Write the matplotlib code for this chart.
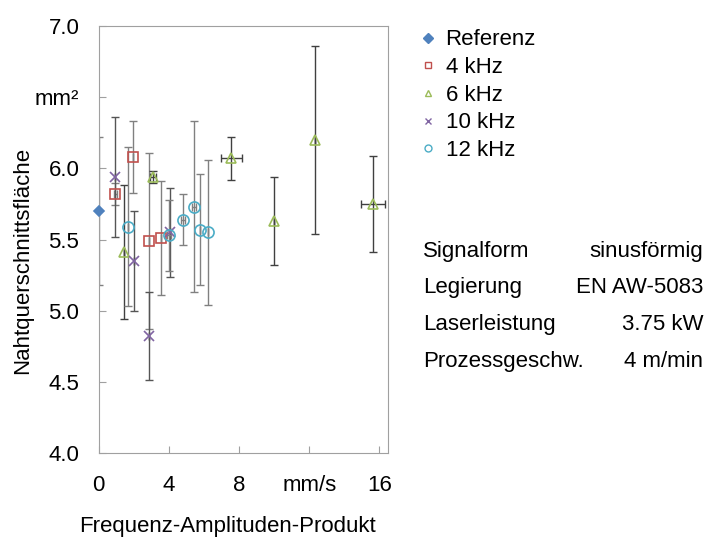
import matplotlib
matplotlib.use('Agg')
import matplotlib.pyplot as plt
from matplotlib.lines import Line2D

plt.rcParams['font.family'] = ['Liberation Sans', 'DejaVu Sans']

# Referenz
ref_x = [0.0]
ref_y = [5.70]
ref_yerr = [0.52]
ref_xerr = [0.0]

# 4 kHz
k4_x = [0.95, 1.97, 2.88, 3.54]
k4_y = [5.82, 6.08, 5.49, 5.51]
k4_yerr = [0.08, 0.25, 0.62, 0.40]
k4_xerr = [0.1, 0.0, 0.0, 0.0]

# 6 kHz
k6_x = [1.46, 3.10, 7.55, 10.0, 12.31, 15.64]
k6_y = [5.41, 5.94, 6.07, 5.63, 6.20, 5.75]
k6_yerr = [0.47, 0.04, 0.15, 0.31, 0.66, 0.34]
k6_xerr = [0.0, 0.15, 0.6, 0.0, 0.0, 0.66]

# 10 kHz
k10_x = [0.93, 2.00, 2.88, 4.05]
k10_y = [5.94, 5.35, 4.82, 5.55]
k10_yerr = [0.42, 0.35, 0.31, 0.31]
k10_xerr = [0.0, 0.0, 0.0, 0.0]

# 12 kHz
k12_x = [1.68, 4.00, 4.81, 5.43, 5.80, 6.23]
k12_y = [5.59, 5.53, 5.64, 5.73, 5.57, 5.55]
k12_yerr = [0.56, 0.25, 0.18, 0.60, 0.39, 0.51]
k12_xerr = [0.0, 0.1, 0.1, 0.1, 0.0, 0.0]

y_ticks = [4.0, 4.5, 5.0, 5.5, 6.0, 6.5, 7.0]
y_labels = ['4.0', '4.5', '5.0', '5.5', '6.0', 'mm²', '7.0']
x_ticks = [0, 4, 8, 12, 16]
x_labels = ['0', '4', '8', 'mm/s', '16']

info_names = ['Signalform', 'Legierung', 'Laserleistung', 'Prozessgeschw.']
info_values = ['sinusförmig', 'EN AW-5083', '3.75 kW', '4 m/min']

fig = plt.figure(figsize=(7.07, 5.37), dpi=100)
ax = fig.add_axes([0.1396, 0.1564, 0.4094, 0.795])

series = [
    (ref_x, ref_y, ref_xerr, ref_yerr, 'D', '#4F81BD', True, 'Referenz', '#808080', 5.5),
    (k4_x, k4_y, k4_xerr, k4_yerr, 's', '#C0504D', False, '4 kHz', '#808080', 7),
    (k6_x, k6_y, k6_xerr, k6_yerr, '^', '#9BBB59', False, '6 kHz', '#404040', 7),
    (k10_x, k10_y, k10_xerr, k10_yerr, 'x', '#8064A2', False, '10 kHz', '#555555', 7),
    (k12_x, k12_y, k12_xerr, k12_yerr, 'o', '#4BACC6', False, '12 kHz', '#808080', 8),
]

handles = []
for x, y, xe, ye, m, c, filled, lab, ecol, ms in series:
    ax.errorbar(x, y, yerr=ye, xerr=xe, fmt='none', ecolor=ecol,
                elinewidth=1.0, capsize=3, capthick=1.0, zorder=2)
    ax.plot(x, y, linestyle='none', marker=m, markersize=ms,
            markerfacecolor=c if filled else 'none', markeredgecolor=c,
            markeredgewidth=1.2, zorder=3, clip_on=False)
    handles.append(Line2D([], [], linestyle='none', marker=m, markersize=5,
                          markerfacecolor=c if filled else 'none',
                          markeredgecolor=c, markeredgewidth=1.0, label=lab))

ax.set_xlim(0, 16.5)
ax.set_ylim(4.0, 7.0)
ax.set_xticks(x_ticks)
ax.set_xticklabels(x_labels)
ax.set_yticks(y_ticks)
ax.set_yticklabels(y_labels)
ax.tick_params(direction='in', length=5, color='#a0a0a0', labelsize=16)
ax.tick_params(axis='x', pad=16)
ax.tick_params(axis='y', pad=14)
for s in ax.spines.values():
    s.set_color('#a0a0a0')

ax.set_ylabel('Nahtquerschnittsfläche', fontsize=16)
ax.yaxis.set_label_coords(-0.227, 0.451)
ax.set_xlabel('Frequenz-Amplituden-Produkt', fontsize=16)
ax.xaxis.set_label_coords(0.446, -0.147)

fig.legend(handles=handles, loc='upper left', bbox_to_anchor=(0.58, 0.962),
           frameon=False, fontsize=16, handlelength=0.8, handletextpad=0.4,
           labelspacing=0.3, borderaxespad=0)

for i, (n, v) in enumerate(zip(info_names, info_values)):
    yy = 1 - (256.7 + 36.7 * i) / 537
    fig.text(423 / 707, yy, n, fontsize=16, ha='left', va='baseline')
    fig.text(703 / 707, yy, v, fontsize=16, ha='right', va='baseline')

fig.savefig('out.png', dpi=100)
